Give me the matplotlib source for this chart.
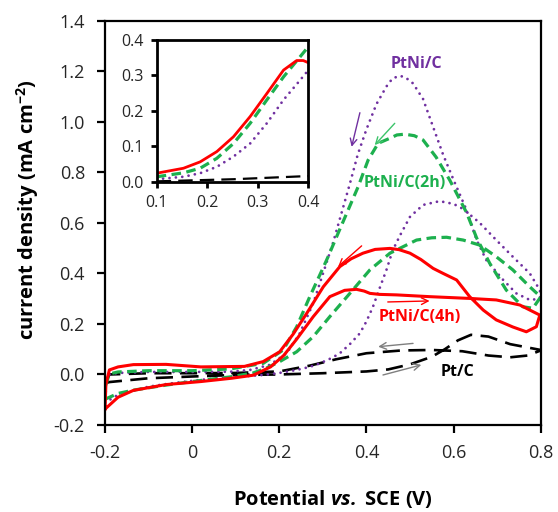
import matplotlib

matplotlib.use('Agg')
import matplotlib.pyplot as plt

plt.rcParams['font.family'] = ['Open Sans', 'DejaVu Sans']
plt.rcParams['mathtext.fontset'] = 'custom'
plt.rcParams['mathtext.rm'] = 'Open Sans'
plt.rcParams['mathtext.bf'] = 'Open Sans:bold'
plt.rcParams['mathtext.it'] = 'Open Sans:italic'
plt.rcParams['mathtext.bfit'] = 'Open Sans:italic:bold'

# --- CV data (forward scan then reverse scan) ---
# PtNi/C (purple, dotted)
ptni_V = [-0.2, -0.17, -0.135, -0.1, -0.06, 0.0, 0.05, 0.1, 0.163, 0.2, 0.24, 0.27,
          0.293, 0.32, 0.339, 0.362, 0.385, 0.40, 0.415, 0.43, 0.446, 0.46, 0.477,
          0.50, 0.53, 0.568, 0.6, 0.622, 0.66, 0.698, 0.736, 0.775, 0.798,
          0.80, 0.79, 0.775, 0.744, 0.714, 0.675, 0.653, 0.63, 0.60, 0.576, 0.553,
          0.53, 0.507, 0.49, 0.477, 0.46, 0.446, 0.423, 0.40, 0.38, 0.362, 0.343,
          0.324, 0.308, 0.278, 0.247, 0.217, 0.178, 0.133, 0.087, 0.0, -0.1, -0.17,
          -0.19, -0.198, -0.2]
ptni_j = [-0.112, -0.08, -0.065, -0.048, -0.038, -0.025, -0.016, -0.01, -0.002, 0.006,
          0.018, 0.03, 0.044, 0.065, 0.084, 0.12, 0.163, 0.21, 0.268, 0.34, 0.414,
          0.49, 0.55, 0.624, 0.671, 0.686, 0.675, 0.655, 0.60, 0.532, 0.466, 0.40,
          0.334,
          0.307, 0.298, 0.295, 0.321, 0.374, 0.453, 0.532, 0.65, 0.77, 0.87, 0.98,
          1.09, 1.152, 1.175, 1.182, 1.172, 1.14, 1.07, 0.97, 0.87, 0.755, 0.64,
          0.525, 0.44, 0.282, 0.163, 0.084, 0.038, 0.018, 0.011, 0.01, 0.01, 0.006,
          0.0, -0.03, -0.112]

# PtNi/C(2h) (green, dashed)
ptni2h_V = [-0.2, -0.17, -0.135, -0.06, 0.0, 0.09, 0.14, 0.17, 0.201, 0.24, 0.278,
            0.316, 0.362, 0.408, 0.454, 0.515, 0.55, 0.584, 0.622, 0.66, 0.698, 0.736,
            0.775, 0.80,
            0.782, 0.759, 0.721, 0.683, 0.653, 0.63, 0.591, 0.56, 0.53, 0.51, 0.488,
            0.47, 0.454, 0.427, 0.404, 0.381, 0.358, 0.335, 0.312, 0.30, 0.27, 0.24,
            0.209, 0.163, 0.087, 0.0, -0.1, -0.17, -0.19, -0.198, -0.2]
ptni2h_j = [-0.098, -0.075, -0.062, -0.042, -0.028, -0.009, 0.006, 0.025, 0.051, 0.09,
            0.15, 0.229, 0.321, 0.414, 0.48, 0.532, 0.541, 0.543, 0.532, 0.512, 0.466,
            0.414, 0.347, 0.307,
            0.262, 0.268, 0.334, 0.44, 0.54, 0.64, 0.77, 0.86, 0.928, 0.945, 0.951,
            0.948, 0.935, 0.915, 0.849, 0.743, 0.651, 0.559, 0.466, 0.42, 0.308, 0.189,
            0.097, 0.044, 0.022, 0.015, 0.015, 0.01, 0.002, -0.04, -0.098]

# PtNi/C(4h) (red, solid)
ptni4h_V = [-0.2, -0.17, -0.135, -0.06, 0.02, 0.09, 0.14, 0.18, 0.21, 0.24, 0.278,
            0.316, 0.35, 0.377, 0.395, 0.408, 0.43, 0.469, 0.545, 0.637, 0.698, 0.752,
            0.798,
            0.79, 0.767, 0.736, 0.698, 0.668, 0.637, 0.607, 0.576, 0.553, 0.525, 0.50,
            0.475, 0.454, 0.42, 0.392, 0.365, 0.339, 0.301, 0.263, 0.232, 0.201, 0.163,
            0.12, 0.02, -0.06, -0.135, -0.17, -0.19, -0.198, -0.2]
ptni4h_j = [-0.137, -0.09, -0.063, -0.04, -0.028, -0.015, -0.003, 0.03, 0.075, 0.14,
            0.229, 0.308, 0.333, 0.337, 0.33, 0.321, 0.317, 0.315, 0.308, 0.301, 0.295,
            0.275, 0.235,
            0.189, 0.169, 0.188, 0.216, 0.255, 0.308, 0.374, 0.40, 0.42, 0.455, 0.48,
            0.494, 0.499, 0.495, 0.48, 0.458, 0.427, 0.347, 0.242, 0.16, 0.09, 0.051,
            0.032, 0.03, 0.04, 0.039, 0.03, 0.018, -0.04, -0.137]

# Pt/C (black, dashed)
pt_V = [-0.2, -0.19, -0.1, 0.0, 0.1, 0.2, 0.3, 0.4, 0.45, 0.5, 0.55, 0.58, 0.61, 0.64,
        0.68, 0.73, 0.8,
        0.8, 0.77, 0.73, 0.68, 0.62, 0.55, 0.48, 0.4, 0.33, 0.27, 0.2, 0.1, 0.0, -0.1,
        -0.19, -0.2]
pt_j = [-0.035, -0.03, -0.015, -0.008, -0.002, 0.0, 0.005, 0.012, 0.02, 0.04, 0.07,
        0.1, 0.135, 0.157, 0.15, 0.12, 0.097,
        0.095, 0.075, 0.068, 0.075, 0.092, 0.097, 0.095, 0.084, 0.06, 0.035, 0.012,
        0.006, 0.005, 0.005, 0.0, -0.035]

# Inset (forward scans, 0.1-0.4 V)
ins_V = [0.1, 0.153, 0.186, 0.219, 0.252, 0.285, 0.318, 0.351, 0.377, 0.39, 0.4]
ins_red = [0.024, 0.038, 0.056, 0.085, 0.127, 0.184, 0.249, 0.315, 0.342, 0.342, 0.336]
ins_V2 = [0.1, 0.153, 0.186, 0.219, 0.252, 0.285, 0.318, 0.351, 0.384, 0.4]
ins_green = [0.014, 0.025, 0.038, 0.066, 0.108, 0.165, 0.231, 0.296, 0.353, 0.381]
ins_purple = [0.007, 0.014, 0.024, 0.042, 0.071, 0.108, 0.165, 0.231, 0.287, 0.315]
ins_V3 = [0.1, 0.252, 0.4]
ins_black = [0.001, 0.007, 0.016]

x_ticks = [-0.2, 0.0, 0.2, 0.4, 0.6, 0.8]
x_ticklabels = ['-0.2', '0', '0.2', '0.4', '0.6', '0.8']
y_ticks = [-0.2, 0.0, 0.2, 0.4, 0.6, 0.8, 1.0, 1.2, 1.4]

PURPLE = '#7030A0'
GREEN = '#1DB04E'
RED = '#FF0000'
ARROW_GREEN = '#3CC46A'
GRAY = '#7F7F7F'


def style_axes(ax, lw, size):
    for s in ax.spines.values():
        s.set_linewidth(lw)
        s.set_color('black')
    ax.tick_params(direction='out', length=5.5, width=lw, labelsize=size,
                   colors='black', labelcolor='#262626')


def main():
    fig = plt.figure(figsize=(5.58, 5.12), dpi=100)
    ax = fig.add_axes([0.1882, 0.1699, 0.7808, 0.7896])

    dot = dict(dashes=(0.01, 2.3), dash_capstyle='round')
    ax.plot(pt_V, pt_j, color='black', lw=1.9, dashes=(6.5, 3.2))
    ax.plot(ptni_V, ptni_j, color=PURPLE, lw=2.0, **dot)
    ax.plot(ptni2h_V, ptni2h_j, color=GREEN, lw=2.3, dashes=(3.0, 1.7))
    ax.plot(ptni4h_V, ptni4h_j, color=RED, lw=2.2)

    ax.set_xlim(-0.2, 0.8)
    ax.set_ylim(-0.2, 1.4)
    ax.set_xticks(x_ticks)
    ax.set_xticklabels(x_ticklabels)
    ax.set_yticks(y_ticks)
    ax.set_yticklabels([f"{v:.1f}" for v in y_ticks])
    style_axes(ax, 1.6, 13)
    ax.tick_params(axis='x', pad=8)
    ax.tick_params(axis='y', pad=9)

    ax.set_xlabel(r"Potential $\bfit{vs.}$ SCE (V)", fontsize=14.5, fontweight='bold')
    ax.set_ylabel(r"current density (mA cm$^{\mathbf{-2}}$)", fontsize=14.5,
                  fontweight='bold')
    ax.xaxis.set_label_coords(0.523, -0.155)
    ax.yaxis.set_label_coords(-0.147, 0.532)

    # labels
    ax.text(0.515, 1.229, "PtNi/C", color=PURPLE, fontsize=11.5, fontweight='bold',
            ha='center', va='center')
    ax.text(0.488, 0.757, "PtNi/C(2h)", color=GREEN, fontsize=11.5, fontweight='bold',
            ha='center', va='center')
    ax.text(0.522, 0.229, "PtNi/C(4h)", color=RED, fontsize=11.5, fontweight='bold',
            ha='center', va='center')
    ax.text(0.61, 0.011, "Pt/C", color='black', fontsize=11.5, fontweight='bold',
            ha='center', va='center')

    # scan direction arrows
    arrows = [((0.385, 1.036), (0.366, 0.901), PURPLE),
              ((0.465, 0.994), (0.419, 0.908), ARROW_GREEN),
              ((0.389, 0.509), (0.335, 0.427), RED),
              ((0.449, 0.287), (0.545, 0.291), RED),
              ((0.507, 0.123), (0.427, 0.110), GRAY),
              ((0.438, -0.002), (0.526, 0.038), GRAY)]
    for tail, head, c in arrows:
        ax.annotate("", xy=head, xytext=tail,
                    arrowprops=dict(arrowstyle='->', color=c, lw=1.0,
                                    mutation_scale=12, shrinkA=0, shrinkB=0))

    # inset
    axi = fig.add_axes([0.2808, 0.6451, 0.2717, 0.2768])
    axi.plot(ins_V3, ins_black, color='black', lw=1.6, dashes=(6.5, 3.2))
    axi.plot(ins_V2, ins_purple, color=PURPLE, lw=2.0, **dot)
    axi.plot(ins_V2, ins_green, color=GREEN, lw=2.3, dashes=(3.0, 1.7))
    axi.plot(ins_V, ins_red, color=RED, lw=2.0)
    axi.set_xlim(0.1, 0.4)
    axi.set_ylim(0.0, 0.4)
    axi.set_xticks([0.1, 0.2, 0.3, 0.4])
    axi.set_yticks([0.0, 0.1, 0.2, 0.3, 0.4])
    axi.set_xticklabels(['0.1', '0.2', '0.3', '0.4'])
    axi.set_yticklabels(['0.0', '0.1', '0.2', '0.3', '0.4'])
    style_axes(axi, 2.0, 11.5)
    axi.tick_params(length=4.5, pad=5)

    fig.savefig("out.png", dpi=100)
    plt.close(fig)


if __name__ == "__main__":
    main()
